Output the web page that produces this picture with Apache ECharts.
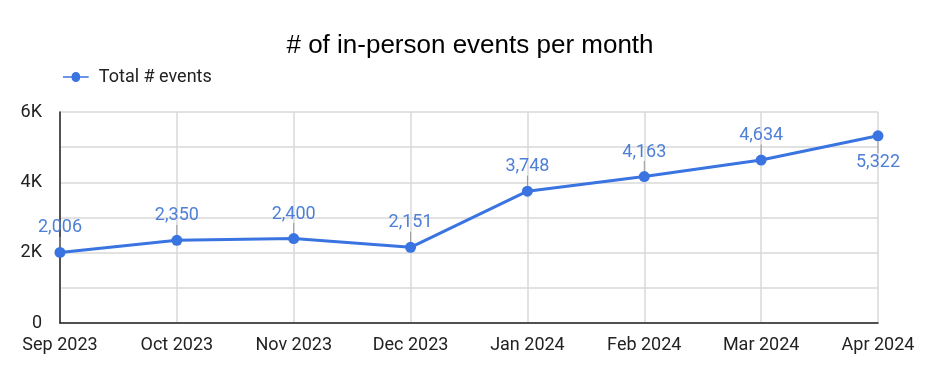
<!DOCTYPE html>
<html><head><meta charset="utf-8">
<script src="https://cdn.jsdelivr.net/npm/echarts@6/dist/echarts.min.js"></script>
<style>html,body{margin:0;padding:0;background:#fff}#c{width:940px;height:376px}</style>
</head><body><div id="c"></div>
<script>
const categories = ['Sep 2023','Oct 2023','Nov 2023','Dec 2023','Jan 2024','Feb 2024','Mar 2024','Apr 2024'];
const totalEvents = [2006, 2350, 2400, 2151, 3748, 4163, 4634, 5322];
const yTicks = {min: 0, max: 6000, interval: 1000};

const chart = echarts.init(document.getElementById('c'));
chart.setOption({
  animation: false,
  title: {text: '# of in-person events per month', left: 'center', top: 28,
    textStyle: {fontFamily: 'Liberation Sans, Arial', fontWeight: 'normal', fontSize: 26, color: '#000'}},
  legend: {left: 58, top: 63, itemWidth: 36, itemHeight: 10, itemGap: 8,
    icon: 'path://M0,4 L12,4 A6,6 0 1 1 24,4 L36,4 L36,6 L24,6 A6,6 0 1 1 12,6 L0,6 Z',
    textStyle: {fontFamily: 'Roboto', fontSize: 18, color: '#222'}},
  grid: {left: 60, right: 62, top: 112, bottom: 53, containLabel: false},
  xAxis: {type: 'category', data: categories, boundaryGap: false,
    axisLine: {lineStyle: {color: '#222', width: 1.5}}, axisTick: {show: false},
    splitLine: {show: true, lineStyle: {color: '#d9d9d9', width: 1.5}},
    axisLabel: {fontFamily: 'Roboto', fontSize: 18, color: '#222', margin: 13, showMaxLabel: true, showMinLabel: true, interval: 0}},
  yAxis: {type: 'value', min: yTicks.min, max: yTicks.max, interval: yTicks.interval,
    axisLine: {show: true, lineStyle: {color: '#222', width: 1.5}}, axisTick: {show: false},
    splitLine: {lineStyle: {color: '#d9d9d9', width: 1.5}},
    axisLabel: {fontFamily: 'Roboto', fontSize: 18, color: '#222', margin: 18,
      formatter: v => (v % 2000 === 0) ? (v === 0 ? '0' : (v/1000) + 'K') : ''}},
  series: [{
    name: 'Total # events', type: 'line', data: totalEvents.map((v,i) => i === totalEvents.length-1 ? {value: v, label: {position: 'bottom'}} : v),
    symbol: 'circle', symbolSize: 11,
    lineStyle: {color: '#3a74e0', width: 3},
    itemStyle: {color: '#3a74e0'},
    label: {show: true, position: 'top', distance: 6, fontFamily: 'Roboto', fontSize: 18, color: '#4f80d6',
      formatter: p => p.value.toLocaleString('en-US')},
    labelLayout: p => p.dataIndex === totalEvents.length-1 ? {dy: 6} : {dy: -4},
    labelLine: {show: true, lineStyle: {color: '#999', width: 1}}
  }]
});
</script></body></html>
